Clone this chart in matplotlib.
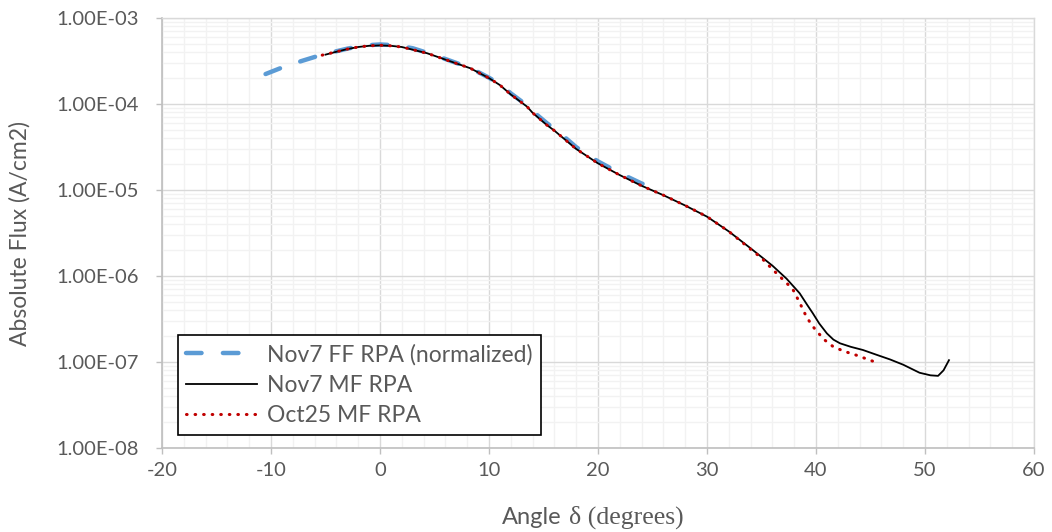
import matplotlib
matplotlib.use("Agg")
import matplotlib.pyplot as plt
from matplotlib.ticker import FuncFormatter, MultipleLocator, LogLocator, NullFormatter
import numpy as np

plt.rcParams["axes.unicode_minus"] = False

# ---- data ----
ff_angle = [-10.5, -9.0, -7.2, -5.3, -3.0, -1.5, 0.0, 1.5, 3.0, 4.3, 6.1, 8.3, 10.0, 11.0,
            12.0, 13.5, 14.5, 15.3, 16.5, 18.0, 20.0, 22.0, 24.0, 24.8]
ff_flux = [2.23e-4, 2.65e-4, 3.16e-4, 3.75e-4, 4.40e-4, 4.80e-4, 4.92e-4, 4.82e-4, 4.45e-4,
           3.95e-4, 3.30e-4, 2.62e-4, 2.02e-4, 1.70e-4, 1.33e-4, 9.6e-5, 7.3e-5, 6.0e-5,
           4.6e-5, 3.15e-5, 2.15e-5, 1.57e-5, 1.19e-5, 1.12e-5]

mf7_angle = [-5.0, -4.0, -3.0, -2.0, -1.0, 0.0, 1.0, 2.0, 4.3, 6.1, 8.3, 10.0, 11.0, 12.0,
             13.5, 14.0, 15.3, 16.0, 18.0, 20.0, 22.0, 24.0, 26.0, 28.0, 30.0, 32.0, 34.0,
             36.0, 37.3, 38.5, 39.2, 39.7, 40.3, 41.0, 41.6, 42.2, 43.2, 44.3, 45.5, 46.8,
             48.0, 49.5, 50.5, 51.2, 51.7, 52.2]
mf7_flux = [3.75e-4, 4.05e-4, 4.35e-4, 4.60e-4, 4.75e-4, 4.80e-4, 4.75e-4, 4.60e-4, 3.90e-4,
            3.25e-4, 2.60e-4, 2.00e-4, 1.66e-4, 1.29e-4, 9.3e-5, 7.9e-5, 5.7e-5, 4.9e-5,
            3.0e-5, 2.04e-5, 1.49e-5, 1.12e-5, 8.7e-6, 6.6e-6, 4.9e-6, 3.3e-6, 2.1e-6,
            1.32e-6, 9.3e-7, 6.3e-7, 4.6e-7, 3.7e-7, 2.8e-7, 2.15e-7, 1.82e-7, 1.65e-7,
            1.50e-7, 1.38e-7, 1.22e-7, 1.07e-7, 9.3e-8, 7.5e-8, 7.0e-8, 6.9e-8, 8.0e-8, 1.05e-7]

mf25_angle = [-5.3, -4.0, -3.0, -2.0, -1.0, 0.0, 1.0, 2.0, 4.3, 6.1, 8.3, 10.0, 11.0, 12.0,
              13.5, 14.0, 15.3, 16.0, 18.0, 20.0, 22.0, 24.0, 26.0, 28.0, 30.0, 32.0, 34.0,
              35.0, 36.0, 36.7, 37.3, 37.9, 38.5, 39.1, 39.6, 40.1, 40.8, 41.6, 42.6, 43.7, 45.7]
mf25_flux = [3.70e-4, 4.05e-4, 4.35e-4, 4.60e-4, 4.75e-4, 4.82e-4, 4.75e-4, 4.60e-4, 3.90e-4,
             3.25e-4, 2.60e-4, 2.00e-4, 1.66e-4, 1.29e-4, 9.3e-5, 7.9e-5, 5.7e-5, 4.9e-5,
             3.0e-5, 2.04e-5, 1.49e-5, 1.12e-5, 8.7e-6, 6.6e-6, 4.9e-6, 3.3e-6, 2.05e-6,
             1.62e-6, 1.2e-6, 9.8e-7, 8.3e-7, 6.9e-7, 4.9e-7, 3.4e-7, 2.7e-7, 2.25e-7,
             1.8e-7, 1.5e-7, 1.33e-7, 1.2e-7, 9.7e-8]

series_labels = ["Nov7 FF RPA (normalized)", "Nov7 MF RPA", "Oct25 MF RPA"]
x_ticks = [-20, -10, 0, 10, 20, 30, 40, 50, 60]

GRAY_TXT = "#595959"
FONT = "Lato"

fig = plt.figure(figsize=(10.52, 5.32), dpi=100)
ax = fig.add_axes([162/1052, 1-448/532, 872/1052, 430/532])

ax.set_yscale("log")
ax.set_xlim(-20, 60)
ax.set_ylim(1e-8, 1e-3)

ax.plot(ff_angle, ff_flux, color="#5B9BD5", lw=3.2, solid_capstyle="round",
        dash_capstyle="round", dashes=(3.5, 4.8), label=series_labels[0], zorder=3)
ax.plot(mf7_angle, mf7_flux, color="black", lw=1.3, label=series_labels[1], zorder=4)
ax.plot(mf25_angle, mf25_flux, color="#C00000", lw=2.2, dash_capstyle="round",
        dashes=(0.2, 2.6), label=series_labels[2], zorder=5)

# ticks and grid
ax.set_xticks(x_ticks)
ax.xaxis.set_minor_locator(MultipleLocator(2))
ax.yaxis.set_major_locator(LogLocator(base=10, numticks=10))
ax.yaxis.set_minor_locator(LogLocator(base=10, subs=np.arange(2, 10), numticks=20))
ax.yaxis.set_minor_formatter(NullFormatter())
ax.yaxis.set_major_formatter(FuncFormatter(lambda v, p: f"{v:.2E}"))
ax.grid(which="major", color="#D9D9D9", lw=1.0, zorder=1)
ax.grid(which="minor", color="#F2F2F2", lw=1.0, zorder=0)
ax.set_axisbelow(True)
ax.tick_params(which="major", length=4, width=1, color="#BFBFBF", labelcolor=GRAY_TXT,
               labelsize=14.5)
ax.tick_params(axis="x", pad=6)
ax.tick_params(axis="y", pad=13)
ax.tick_params(which="minor", length=0)
for lab in ax.get_xticklabels() + ax.get_yticklabels():
    lab.set_family(FONT)

for side in ["left", "bottom"]:
    ax.spines[side].set_color("#BFBFBF")
    ax.spines[side].set_linewidth(1.2)
for side in ["top", "right"]:
    ax.spines[side].set_color("#D9D9D9")
    ax.spines[side].set_linewidth(1.0)

fig.text(20/1052, 1-233/532, "Absolute Flux (A/cm2)", family=FONT, fontsize=16.5,
         color=GRAY_TXT, rotation=90, ha="center", va="center")

# x label: sans "Angle" + serif "δ (degrees)"
fig.text(562/1052, 1-524/532, "Angle", family=FONT, fontsize=17, color=GRAY_TXT,
         ha="right", va="baseline")
fig.text(569/1052, 1-524/532, "δ (degrees)", family="Liberation Serif", fontsize=18.5,
         color=GRAY_TXT, ha="left", va="baseline")

leg = ax.legend(loc="lower left", bbox_to_anchor=(0.018, 0.030), borderaxespad=0,
                prop={"family": FONT, "size": 16.5}, handlelength=3.1, handletextpad=0.4,
                labelspacing=0.42, borderpad=0.38, fancybox=False, framealpha=1,
                edgecolor="black")
leg.get_frame().set_linewidth(1.2)
for t in leg.get_texts():
    t.set_color(GRAY_TXT)

fig.savefig("out.png", dpi=100)
